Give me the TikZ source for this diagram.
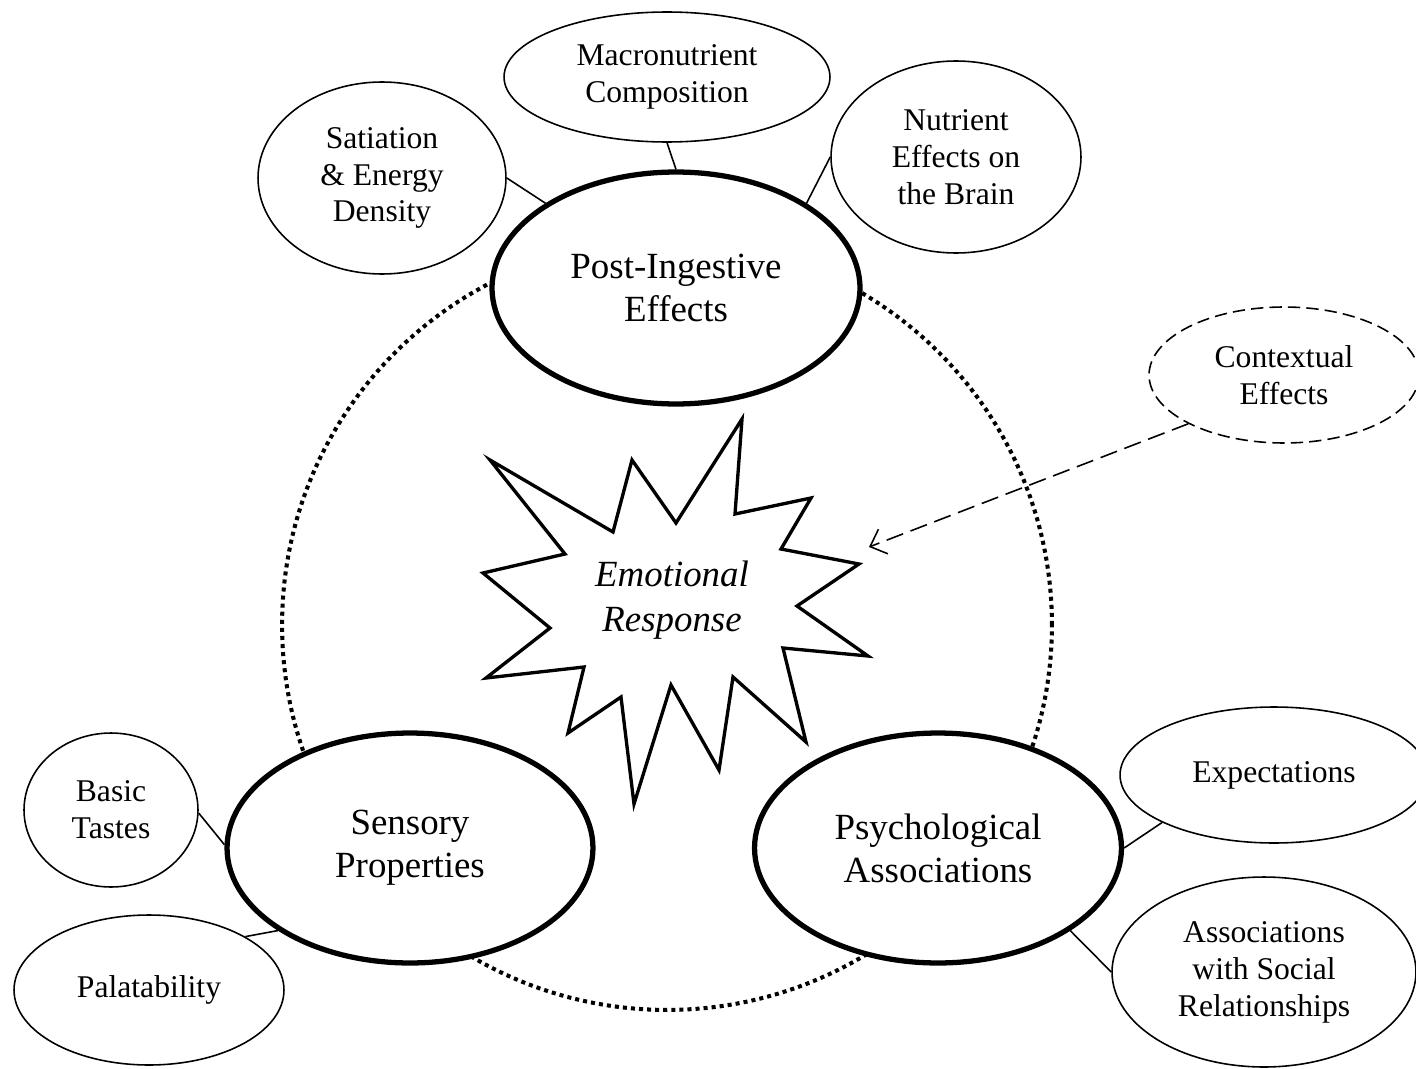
\documentclass[tikz,border=0pt]{standalone}
\usepackage{fontspec}
\setmainfont{Liberation Serif}
\usetikzlibrary{shapes.geometric,arrows.meta}

\begin{document}
\begin{tikzpicture}[x=0.02cm, y=-0.02cm,
	bubble/.style={ellipse, draw, fill=white, line width=0.9pt, inner sep=0pt, align=center, font=\fontsize{18}{21}\selectfont},
	mainbubble/.style={bubble, line width=3pt, font=\fontsize{21}{24.5}\selectfont},
	cue/.style={bubble, dash pattern=on 7pt off 3.5pt},
	link/.style={line width=0.9pt},
	ring/.style={line width=2.3pt, dash pattern=on 2.3pt off 2.3pt},
	burst/.style={line width=1.9pt, line join=miter}]
	\useasboundingbox (0,0) rectangle (1416,1068);
	\draw[ring] (667,625) circle[radius=7.7cm];
	\draw[burst] (490,460) -- (613,532) -- (632,460) -- (676,523) -- (742,419) -- (735,514)
		-- (811,498) -- (781,549) -- (859,564) -- (797,606) -- (868,656) -- (783,648)
		-- (806,742) -- (733,677) -- (719,770) -- (671,685) -- (634,804) -- (621,697)
		-- (568,733) -- (584,667) -- (486,678) -- (550,628) -- (483,573) -- (565,554) -- cycle;
	\node[font=\fontsize{21}{25.5}\selectfont\itshape, align=center] (emo) at (672,600) {Emotional\\Response};
	\coordinate (hit) at (869,547);

	\node[mainbubble, minimum width=7.36cm, minimum height=4.64cm] (post) at (676,288) {Post-Ingestive\\Effects};
	\node[mainbubble, minimum width=7.32cm, minimum height=4.6cm] (sens) at (410,848) {Sensory\\Properties};
	\node[mainbubble, minimum width=7.34cm, minimum height=4.6cm] (psych) at (938,848) {Psychological\\Associations};

	\node[bubble, minimum width=6.52cm, minimum height=2.6cm] (macro) at (667,77) {Macronutrient\\Composition};
	\node[bubble, minimum width=4.96cm, minimum height=3.84cm] (sat) at (382,178) {Satiation\\\& Energy\\Density};
	\node[bubble, minimum width=5cm, minimum height=3.84cm] (brain) at (956,157) {Nutrient\\Effects on\\the Brain};
	\node[cue, minimum width=5.4cm, minimum height=2.72cm] (context) at (1284,375) {Contextual\\Effects};
	\node[bubble, minimum width=3.48cm, minimum height=3.08cm] (tastes) at (111,810) {Basic\\Tastes};
	\node[bubble, minimum width=5.4cm, minimum height=3cm] (palat) at (149,990) {Palatability};
	\node[bubble, minimum width=6.16cm, minimum height=2.72cm] (expect) at (1274,775) {Expectations};
	\node[bubble, minimum width=6.08cm, minimum height=3.8cm] (social) at (1264,972) {Associations\\with Social\\Relationships};

	\draw[link] (macro.south) -- (post.north);
	\draw[link] (sat.east) -- (post.147);
	\draw[link] (brain.west) -- (post.33);
	\draw[link] (tastes.-2) -- (sens.179);
	\draw[link] (palat.29) -- (sens.212);
	\draw[link] (expect.203) -- (psych.east);
	\draw[link] (social.west) -- (psych.-32);
	\draw[link, dash pattern=on 10pt off 4.5pt, -{Straight Barb[length=8pt,width=15pt]}] (context.207) -- (hit);
\end{tikzpicture}
\end{document}
